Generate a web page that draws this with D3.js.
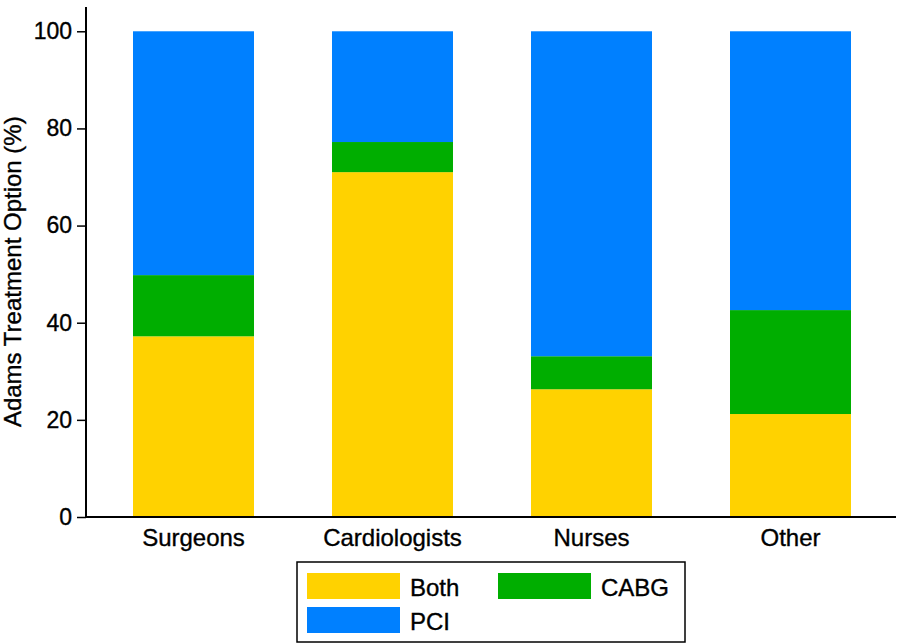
<!DOCTYPE html>
<html>
<head>
<meta charset="utf-8">
<script src="https://cdn.jsdelivr.net/npm/d3@7"></script>
<style>
  body { margin: 0; background: #fff; }
  svg text { font-family: "Liberation Sans", Arial, Helvetica, sans-serif; fill: #000; stroke: #000; stroke-width: 0.35px; }
</style>
</head>
<body>
<div id="chart"></div>
<script>
// data
const categories = ["Surgeons", "Cardiologists", "Nurses", "Other"];
const both = [37.2, 71.0, 26.3, 21.2];
const cabg = [12.6, 6.2, 6.8, 21.4];
const pci = [50.2, 22.8, 66.9, 57.4];
const yTicks = [0, 20, 40, 60, 80, 100];
const seriesNames = ["Both", "CABG", "PCI"];
const seriesColors = ["#ffd200", "#00ae00", "#0080ff"];

const width = 904, height = 644;
const svg = d3.select("#chart").append("svg")
    .attr("width", width)
    .attr("height", height);

const x = d3.scaleBand()
    .domain(categories)
    .range([94, 890])
    .paddingInner(0.392)
    .paddingOuter(0.196);

const y = d3.scaleLinear()
    .domain([0, 105])
    .range([517, 7]);

// stack the rows
const rows = categories.map((c, i) => ({cat: c, Both: both[i], CABG: cabg[i], PCI: pci[i]}));
const stacked = d3.stack().keys(seriesNames)(rows);

svg.append("g")
    .selectAll("g")
    .data(stacked)
    .join("g")
    .attr("fill", (d, i) => seriesColors[i])
    .selectAll("rect")
    .data(d => d)
    .join("rect")
    .attr("x", d => x(d.data.cat))
    .attr("width", x.bandwidth())
    .attr("y", d => y(d[1]))
    .attr("height", d => y(d[0]) - y(d[1]));

// Y axis
const yAxis = svg.append("g")
    .attr("transform", "translate(86,0)")
    .call(d3.axisLeft(y).tickValues(yTicks).tickSize(9).tickPadding(5));
yAxis.select(".domain").attr("d", `M0,${y(0)}V${y(105)}`).attr("stroke-width", 2);
yAxis.selectAll(".tick line").attr("stroke-width", 1.5);
yAxis.selectAll(".tick text").style("font-size", "23px");

// X axis
const xAxis = svg.append("g")
    .attr("transform", `translate(0,${y(0)})`)
    .call(d3.axisBottom(x).tickSize(0).tickPadding(12));
xAxis.select(".domain").attr("d", "M86,0H896").attr("stroke-width", 2);
xAxis.selectAll(".tick text").style("font-size", "24px");

// Y title
svg.append("text")
    .attr("transform", `translate(21,${y(50.5)}) rotate(-90)`)
    .attr("text-anchor", "middle")
    .style("font-size", "24px")
    .text("Adams Treatment Option (%)");

// legend
const legend = svg.append("g").attr("transform", "translate(297,562)");
legend.append("rect")
    .attr("width", 388).attr("height", 80)
    .attr("fill", "#fff").attr("stroke", "#000").attr("stroke-width", 1.5);
const legendPos = [[10, 11], [201, 11], [10, 45]];
const li = legend.selectAll("g.item")
    .data(seriesNames)
    .join("g")
    .attr("class", "item")
    .attr("transform", (d, i) => `translate(${legendPos[i][0]},${legendPos[i][1]})`);
li.append("rect")
    .attr("width", 93).attr("height", 26)
    .attr("fill", (d, i) => seriesColors[i]);
li.append("text")
    .attr("x", 103).attr("y", 14).attr("dy", "0.36em")
    .style("font-size", "24px")
    .text(d => d);
</script>
</body>
</html>
